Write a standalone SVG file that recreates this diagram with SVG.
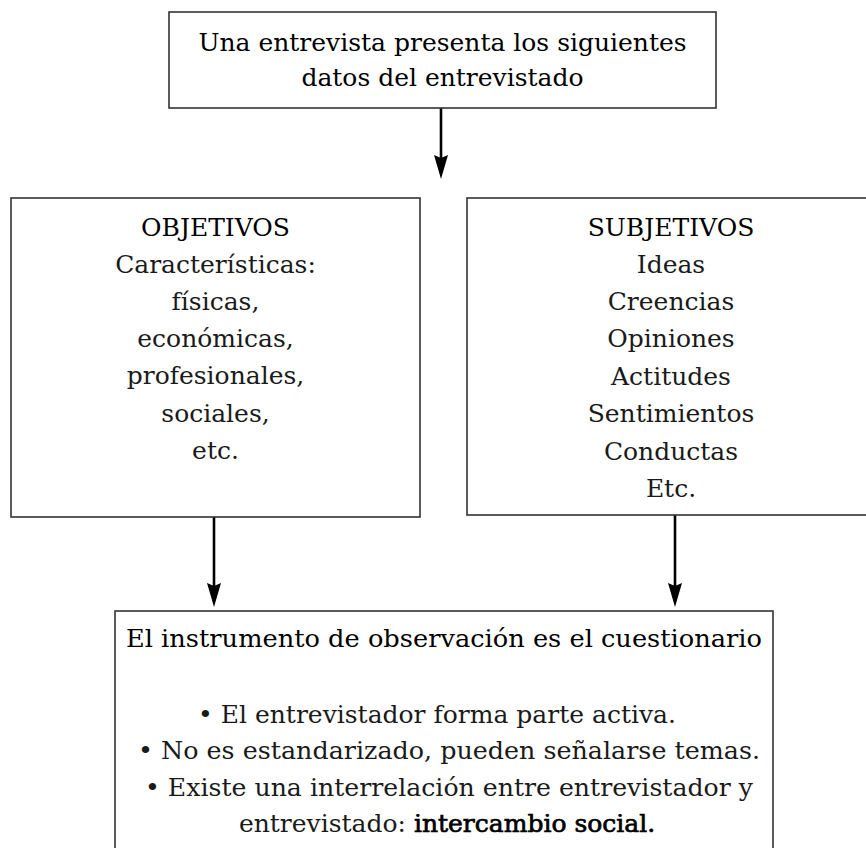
<svg xmlns="http://www.w3.org/2000/svg" width="866" height="848" viewBox="0 0 866 848">
<style>
.box{fill:#fff;stroke:#333;stroke-width:1.6}
.t{font-family:"DejaVu Serif","Liberation Serif",serif;font-size:25px;fill:#1a1a1a;text-anchor:middle}
.h{fill:#000}
.b{fill:#000;stroke:#000;stroke-width:0.7}
.arrow{stroke:#000;stroke-width:2.6;fill:none;marker-end:url(#ah)}
</style>
<defs>
<marker id="ah" markerUnits="userSpaceOnUse" viewBox="0 0 24 14" refX="12" refY="7" markerWidth="24" markerHeight="14" orient="auto">
<path d="M0,0 L24,7 L0,14 L3,7 z" fill="#000"/>
</marker>
</defs>
<rect width="866" height="848" fill="#fff"/>
<g id="connectors">
<line class="arrow" x1="441" y1="108" x2="441" y2="167"/>
<line class="arrow" x1="214" y1="517" x2="214" y2="595"/>
<line class="arrow" x1="675" y1="515" x2="675" y2="595"/>
</g>
<g id="top">
<rect class="box" x="169" y="12" width="547" height="96"/>
<text class="t h" x="442.5" y="51">Una entrevista presenta los siguientes</text>
<text class="t h" x="442.5" y="86">datos del entrevistado</text>
</g>
<g id="objetivos">
<rect class="box" x="11" y="198" width="409" height="319"/>
<text class="t h" x="215.5" y="236">OBJETIVOS</text>
<text class="t" x="215.5" y="273">Características:</text>
<text class="t" x="215.5" y="310">físicas,</text>
<text class="t" x="215.5" y="347">económicas,</text>
<text class="t" x="215.5" y="384">profesionales,</text>
<text class="t" x="215.5" y="422">sociales,</text>
<text class="t" x="215.5" y="459">etc.</text>
</g>
<g id="subjetivos">
<rect class="box" x="467" y="198" width="410" height="317"/>
<text class="t h" x="671" y="236">SUBJETIVOS</text>
<text class="t" x="671" y="273">Ideas</text>
<text class="t" x="671" y="310">Creencias</text>
<text class="t" x="671" y="347">Opiniones</text>
<text class="t" x="671" y="385">Actitudes</text>
<text class="t" x="671" y="422">Sentimientos</text>
<text class="t" x="671" y="460">Conductas</text>
<text class="t" x="671" y="497">Etc.</text>
</g>
<g id="cuestionario">
<rect class="box" x="115" y="611" width="658" height="260"/>
<text class="t h" x="444" y="647" textLength="636" lengthAdjust="spacingAndGlyphs">El instrumento de observación es el cuestionario</text>
<text class="t" x="437" y="723">• El entrevistador forma parte activa.</text>
<text class="t" x="449" y="759" textLength="622" lengthAdjust="spacingAndGlyphs">• No es estandarizado, pueden señalarse temas.</text>
<text class="t" x="449" y="796" textLength="608" lengthAdjust="spacingAndGlyphs">• Existe una interrelación entre entrevistador y</text>
<text class="t" x="447" y="832">entrevistado: <tspan class="b">intercambio social.</tspan></text>
</g>
</svg>
